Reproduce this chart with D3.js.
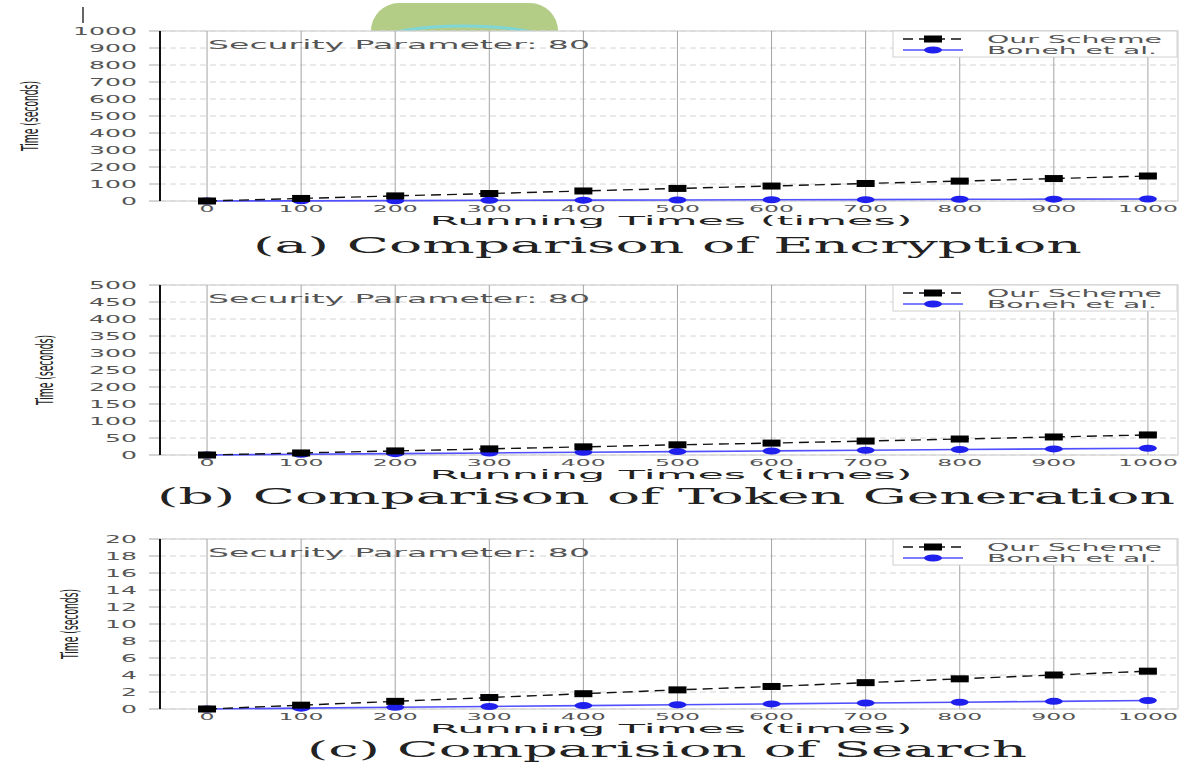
<!DOCTYPE html>
<html>
<head>
<meta charset="utf-8">
<script src="https://cdn.jsdelivr.net/npm/d3@7"></script>
<style>
  body { margin: 0; background: #fff; }
  svg { display: block; }
</style>
</head>
<body>
<script>
const W = 1187, H = 762;

// running times on the x axis
const runs = [0, 100, 200, 300, 400, 500, 600, 700, 800, 900, 1000];

// (a) encryption
const encOurs  = [0, 15, 30, 44, 59, 74, 88, 103, 117, 132, 147];
const encBoneh = [0, 1, 2, 4, 5, 6, 7, 8, 10, 11, 12];
// (b) token generation
const tokOurs  = [0, 6, 12, 18, 24, 30, 35, 41, 47, 53, 59];
const tokBoneh = [0, 2, 4, 6, 8, 10, 12, 14, 16, 18, 20];
// (c) search
const srOurs   = [0, 0.45, 0.9, 1.35, 1.8, 2.25, 2.65, 3.1, 3.55, 4.0, 4.45];
const srBoneh  = [0, 0.1, 0.2, 0.3, 0.4, 0.5, 0.6, 0.7, 0.8, 0.9, 1.0];

const yTicksA = d3.range(0, 1001, 100);
const yTicksB = d3.range(0, 501, 50);
const yTicksC = d3.range(0, 21, 2);

const seriesNames = ["Our Scheme", "Boneh et al."];
const captions = [
  "(a) Comparison of Encryption",
  "(b) Comparison of Token Generation",
  "(c) Comparision of Search"
];

const svg = d3.select("body").append("svg").attr("width", W).attr("height", H);

// decoration peeking out behind the top plot
svg.append("rect").attr("x", 371).attr("y", 3).attr("width", 187).attr("height", 60)
  .attr("rx", 28).attr("fill", "#b3cd86");
svg.append("ellipse").attr("cx", 464).attr("cy", 40).attr("rx", 80).attr("ry", 14)
  .attr("fill", "none").attr("stroke", "#7fd6d6").attr("stroke-width", 3);
svg.append("line").attr("x1", 83).attr("x2", 83).attr("y1", 7).attr("y2", 23)
  .attr("stroke", "#333").attr("stroke-width", 1.5);

const plotLeft = 160, plotRight = 1178;
const x = d3.scaleLinear().domain([-50, 1032]).range([plotLeft, plotRight]);

function drawPanel(p) {
  const g = svg.append("g");
  const y = d3.scaleLinear().domain([0, p.ymax]).range([p.top + 170, p.top]);
  const bottom = p.top + 170;

  g.append("rect").attr("x", plotLeft).attr("y", p.top).attr("width", plotRight - plotLeft)
    .attr("height", 170).attr("fill", "#fff").attr("stroke", "#c8c8c8");

  // horizontal dashed grid
  g.selectAll(".hg").data(p.yticks).enter().append("line")
    .attr("x1", plotLeft).attr("x2", plotRight)
    .attr("y1", d => y(d)).attr("y2", d => y(d))
    .attr("stroke", "#d4d4d4").attr("stroke-dasharray", "6,4");

  // vertical solid grid
  g.selectAll(".vg").data(runs).enter().append("line")
    .attr("x1", d => x(d)).attr("x2", d => x(d))
    .attr("y1", p.top).attr("y2", bottom)
    .attr("stroke", "#9a9a9a").attr("stroke-width", 0.9);

  // y ticks + labels
  g.selectAll(".yt").data(p.yticks).enter().append("line")
    .attr("x1", plotLeft - 11).attr("x2", plotLeft)
    .attr("y1", d => y(d)).attr("y2", d => y(d))
    .attr("stroke", "#aaa");
  g.selectAll(".yl").data(p.yticks).enter().append("text")
    .attr("x", 137).attr("y", d => y(d) + 4)
    .attr("text-anchor", "end")
    .attr("font-family", "DejaVu Sans").attr("font-size", 10).attr("fill", "#555")
    .attr("textLength", d => String(d).length * 16).attr("lengthAdjust", "spacingAndGlyphs")
    .text(d => d);

  // x labels
  g.selectAll(".xl").data(runs).enter().append("text")
    .attr("x", d => x(d)).attr("y", bottom + 11)
    .attr("text-anchor", "middle")
    .attr("font-family", "DejaVu Sans").attr("font-size", 9).attr("fill", "#555")
    .attr("textLength", d => String(d).length * 15).attr("lengthAdjust", "spacingAndGlyphs")
    .text(d => d);

  // left spine
  g.append("line").attr("x1", plotLeft).attr("x2", plotLeft).attr("y1", p.top).attr("y2", bottom)
    .attr("stroke", "#111").attr("stroke-width", 2);

  // lines
  const line = d3.line().x((d, i) => x(runs[i])).y(d => y(d));
  g.append("path").datum(p.boneh).attr("d", line).attr("fill", "none")
    .attr("stroke", "#5050ff").attr("stroke-width", 1.6);
  g.append("path").datum(p.ours).attr("d", line).attr("fill", "none")
    .attr("stroke", "#111").attr("stroke-width", 1.4).attr("stroke-dasharray", "10,6");

  g.selectAll(".mb").data(p.boneh).enter().append("ellipse")
    .attr("cx", (d, i) => x(runs[i])).attr("cy", d => y(d))
    .attr("rx", 9).attr("ry", 3.5).attr("fill", "#1f1fee");
  g.selectAll(".mo").data(p.ours).enter().append("rect")
    .attr("x", (d, i) => x(runs[i]) - 9).attr("y", d => y(d) - 3.5)
    .attr("width", 18).attr("height", 7).attr("fill", "#000");

  // annotation
  g.append("text").attr("x", 208).attr("y", p.top + 18)
    .attr("font-family", "DejaVu Sans").attr("font-size", 11.5).attr("fill", "#555")
    .attr("textLength", 382).attr("lengthAdjust", "spacingAndGlyphs")
    .text("Security Parameter: 80");

  // legend
  const lg = g.append("g");
  lg.append("rect").attr("x", 893).attr("y", p.top).attr("width", 284).attr("height", 26)
    .attr("fill", "#fff").attr("stroke", "#d0d0d0");
  lg.append("line").attr("x1", 903).attr("x2", 963).attr("y1", p.top + 8).attr("y2", p.top + 8)
    .attr("stroke", "#111").attr("stroke-width", 1.4).attr("stroke-dasharray", "10,6");
  lg.append("rect").attr("x", 924).attr("y", p.top + 4.5).attr("width", 18).attr("height", 7).attr("fill", "#000");
  lg.append("line").attr("x1", 903).attr("x2", 963).attr("y1", p.top + 19).attr("y2", p.top + 19)
    .attr("stroke", "#5050ff").attr("stroke-width", 1.6);
  lg.append("ellipse").attr("cx", 933).attr("cy", p.top + 19).attr("rx", 9).attr("ry", 3.5).attr("fill", "#1f1fee");
  lg.selectAll(".lt").data(seriesNames).enter().append("text")
    .attr("x", 987).attr("y", (d, i) => p.top + 12 + i * 11)
    .attr("font-family", "DejaVu Sans").attr("font-size", 10).attr("fill", "#555")
    .attr("textLength", (d, i) => i === 0 ? 175 : 170).attr("lengthAdjust", "spacingAndGlyphs")
    .text(d => d);

  // axis titles
  g.append("text").attr("x", 671).attr("y", bottom + 24)
    .attr("text-anchor", "middle")
    .attr("font-family", "DejaVu Sans").attr("font-size", 13).attr("fill", "#222")
    .attr("textLength", 483).attr("lengthAdjust", "spacingAndGlyphs")
    .text("Running Times (times)");

  // tall, condensed rotated label (stretched across the glyph height)
  g.append("text")
    .attr("transform", `translate(${p.ylabX},${p.top + 85}) rotate(-90) scale(0.92,2.3)`)
    .attr("text-anchor", "middle").attr("dy", "0.35em")
    .attr("font-family", "DejaVu Sans").attr("font-size", 10).attr("fill", "#222")
    .text("Time (seconds)");

  g.append("text").attr("x", p.capX).attr("y", p.capY)
    .attr("font-family", "DejaVu Serif").attr("font-size", 23).attr("fill", "#222")
    .attr("textLength", p.capW).attr("lengthAdjust", "spacingAndGlyphs")
    .text(p.caption);
}

drawPanel({ top: 31, ymax: 1000, yticks: yTicksA, ours: encOurs, boneh: encBoneh,
  caption: captions[0], capX: 253, capY: 253, capW: 829, ylabX: 30 });
drawPanel({ top: 285, ymax: 500, yticks: yTicksB, ours: tokOurs, boneh: tokBoneh,
  caption: captions[1], capX: 157, capY: 504, capW: 1018, ylabX: 45 });
drawPanel({ top: 539, ymax: 20, yticks: yTicksC, ours: srOurs, boneh: srBoneh,
  caption: captions[2], capX: 307, capY: 757, capW: 720, ylabX: 70 });
</script>
</body>
</html>
